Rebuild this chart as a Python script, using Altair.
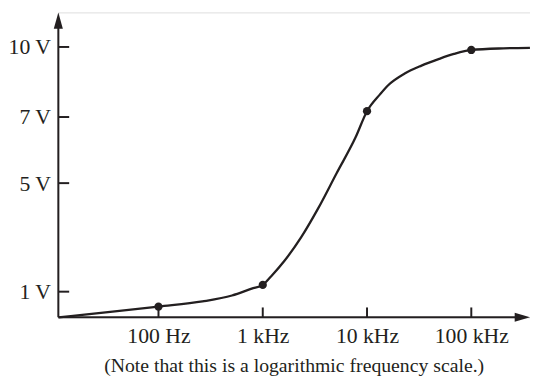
import altair as alt
import pandas as pd
import math

# curve (frequency in Hz, output in volts)
freq_hz = [11, 20.6, 100, 264, 507, 783, 1000, 1212, 1609, 2331, 3377, 5108,
           7727, 10000, 13320, 15860, 22980, 33270, 49260, 68200, 100000, 203000, 365000]
volts = [0, 0.12, 0.42, 0.62, 0.85, 1.11, 1.25, 1.58, 2.13, 3.0, 4.05, 5.30,
         6.37, 7.25, 7.97, 8.35, 8.86, 9.20, 9.49, 9.70, 9.87, 9.94, 9.96]

# marked points
dot_freq = [100, 1000, 10000, 100000]
dot_volts = [0.42, 1.25, 7.25, 9.87]

# axis ticks
x_ticks = [100, 1000, 10000, 100000]
x_labels = ["100 Hz", "1 kHz", "10 kHz", "100 kHz"]
y_ticks = [1, 5, 7, 10]
y_labels = ["1 V", "5 V", "7 V", "10 V"]

caption = "(Note that this is a logarithmic frequency scale.)"

X_MIN, X_MAX = 10.95, 365600
Y_TOP = 11.48
W, H = 478, 309
INK = "#231f20"
FONT = "Liberation Serif"

curve = pd.DataFrame({"f": freq_hz, "v": volts})
dots = pd.DataFrame({"f": dot_freq, "v": dot_volts})
yt = pd.DataFrame({"v": y_ticks})
xt = pd.DataFrame({"f": x_ticks})

x_scale = alt.Scale(type="log", domain=[X_MIN, X_MAX], nice=False)
y_scale = alt.Scale(domain=[0, 1, 5, 7, 10, Y_TOP], range=[H, 283, 173, 106, 35, 0],
                    nice=False, zero=False)

# arrowhead geometry (decoration), expressed through the same scales
dec_px = W / math.log10(X_MAX / X_MIN)
top_px_per_v = 35 / (Y_TOP - 10)
bot_px_per_v = (H - 283) / 1
kx = 10 ** (4.6 / dec_px)
y_head = pd.DataFrame({
    "v": [Y_TOP, Y_TOP - 16.5 / top_px_per_v],
    "xl": [X_MIN, X_MIN / kx],
    "xr": [X_MIN, X_MIN * kx],
})
x_base = X_MAX / 10 ** (15.5 / dec_px)
hv = 4.6 / bot_px_per_v
x_head = pd.DataFrame({
    "v": [-hv, 0, hv],
    "xl": [x_base, x_base, x_base],
    "xr": [x_base, X_MAX, x_base],
})

x_expr = " : ".join(f"datum.value == {v} ? '{l}'" for v, l in zip(x_ticks, x_labels)) + " : ''"
y_expr = " : ".join(f"datum.value == {v} ? '{l}'" for v, l in zip(y_ticks, y_labels)) + " : ''"

x_axis = alt.Axis(values=x_ticks, labelExpr=x_expr, ticks=False, domain=False, grid=False,
                  title=None, labelFont=FONT, labelFontSize=22, labelColor=INK,
                  labelPadding=9)
y_axis = alt.Axis(values=y_ticks, labelExpr=y_expr, ticks=False, domain=False, grid=False,
                  title=None, labelFont=FONT, labelFontSize=22, labelColor=INK,
                  labelPadding=8)

line = alt.Chart(curve).mark_line(interpolate="monotone", color=INK, strokeWidth=2.3).encode(
    x=alt.X("f:Q", scale=x_scale, axis=x_axis),
    y=alt.Y("v:Q", scale=y_scale, axis=y_axis),
)

points = alt.Chart(dots).mark_point(filled=True, color=INK, size=70, opacity=1).encode(
    x="f:Q", y="v:Q"
)

y_tick_marks = alt.Chart(yt).mark_rule(color=INK, strokeWidth=2).encode(
    y="v:Q", x=alt.value(0), x2=alt.value(11)
)
x_tick_marks = alt.Chart(xt).mark_rule(color=INK, strokeWidth=2).encode(
    x="f:Q", y=alt.value(H), y2=alt.value(H - 10)
)

base = alt.Chart(pd.DataFrame({"d": [0]}))
y_line = base.mark_rule(color=INK, strokeWidth=2).encode(
    x=alt.datum(X_MIN), y=alt.datum(0), y2=alt.datum(Y_TOP - 0.5)
)
x_line = base.mark_rule(color=INK, strokeWidth=2).encode(
    y=alt.datum(0), x=alt.datum(X_MIN), x2=alt.datum(X_MAX * 0.8)
)
y_arrow = alt.Chart(y_head).mark_area(orient="horizontal", color=INK, opacity=1).encode(
    y="v:Q", x="xl:Q", x2="xr:Q"
)
x_arrow = alt.Chart(x_head).mark_area(orient="horizontal", color=INK, opacity=1).encode(
    y="v:Q", x="xl:Q", x2="xr:Q"
)

chart = alt.layer(
    line, points, y_tick_marks, x_tick_marks, y_line, x_line, y_arrow, x_arrow
).properties(
    width=W, height=H,
    autosize=alt.AutoSizeParams(type="none"),
    padding={"left": 51, "top": 2, "right": 0, "bottom": 59},
    title=alt.TitleParams(caption, orient="bottom", font=FONT, fontSize=20,
                          fontWeight="normal", color=INK, anchor="middle", offset=9),
).configure_view(stroke=None).configure(background="white")

chart.save("out.html", embed_options={"renderer": "svg", "actions": False})
